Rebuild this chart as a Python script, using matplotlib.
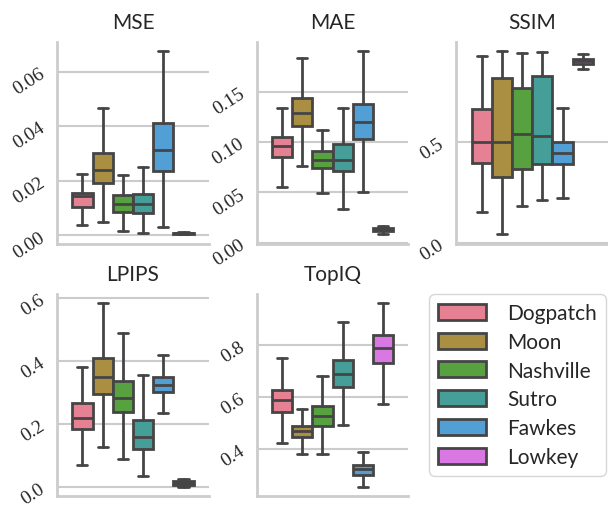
import matplotlib
matplotlib.use("Agg")
import matplotlib.pyplot as plt
from matplotlib.patches import Patch
import seaborn as sns

methods = ["Dogpatch", "Moon", "Nashville", "Sutro", "Fawkes", "Lowkey"]

# per method: [whisker low, q1, median, q3, whisker high]
mse_stats = [
    [0.0037, 0.0106, 0.0143, 0.0156, 0.0226],
    [0.0049, 0.0191, 0.0240, 0.0301, 0.0467],
    [0.0017, 0.0087, 0.0116, 0.0147, 0.0223],
    [0.0010, 0.0084, 0.0115, 0.0152, 0.0250],
    [0.0031, 0.0235, 0.0313, 0.0412, 0.0675],
    [0.0004, 0.0006, 0.0008, 0.0010, 0.0012],
]
mae_stats = [
    [0.0556, 0.0851, 0.0960, 0.1053, 0.1338],
    [0.0758, 0.1159, 0.1285, 0.1434, 0.1832],
    [0.0496, 0.0742, 0.0818, 0.0907, 0.1116],
    [0.0331, 0.0715, 0.0821, 0.0980, 0.1338],
    [0.0506, 0.1033, 0.1202, 0.1381, 0.1905],
    [0.0083, 0.0112, 0.0128, 0.0145, 0.0168],
]
ssim_stats = [
    [0.150, 0.393, 0.499, 0.660, 0.925],
    [0.041, 0.327, 0.499, 0.816, 0.948],
    [0.183, 0.364, 0.538, 0.765, 0.938],
    [0.211, 0.388, 0.528, 0.824, 0.941],
    [0.222, 0.391, 0.444, 0.500, 0.668],
    [0.860, 0.883, 0.897, 0.908, 0.933],
]
lpips_stats = [
    [0.071, 0.186, 0.221, 0.266, 0.382],
    [0.126, 0.297, 0.351, 0.411, 0.584],
    [0.091, 0.239, 0.282, 0.338, 0.489],
    [0.036, 0.120, 0.160, 0.212, 0.355],
    [0.234, 0.303, 0.325, 0.351, 0.420],
    [0.002, 0.008, 0.013, 0.019, 0.025],
]
topiq_stats = [
    [0.425, 0.544, 0.588, 0.628, 0.751],
    [0.382, 0.446, 0.470, 0.488, 0.553],
    [0.381, 0.491, 0.526, 0.567, 0.681],
    [0.493, 0.641, 0.690, 0.743, 0.890],
    [0.257, 0.302, 0.323, 0.338, 0.389],
    [0.575, 0.730, 0.789, 0.837, 0.961],
]

metrics = ["MSE", "MAE", "SSIM", "LPIPS", "TopIQ"]
all_stats = [mse_stats, mae_stats, ssim_stats, lpips_stats, topiq_stats]
yticks = [
    [0.00, 0.02, 0.04, 0.06],
    [0.00, 0.05, 0.10, 0.15],
    [0.0, 0.5],
    [0.0, 0.2, 0.4, 0.6],
    [0.4, 0.6, 0.8],
]
tick_fmt = ["{:.2f}", "{:.2f}", "{:.1f}", "{:.1f}", "{:.1f}"]

sns.set_theme(style="whitegrid")
plt.rcParams["font.family"] = ["Lato", "DejaVu Sans"]

colors = [sns.desaturate(c, 0.75) for c in sns.color_palette("husl", len(methods))]
line_col = "0.27"
lw = 2.0

fig, axes = plt.subplots(2, 3, figsize=(6.08, 5.1), dpi=100)
fig.subplots_adjust(left=0.094, right=1.0, top=0.916, bottom=0.026,
                    wspace=0.316, hspace=0.25)

n = len(methods)
step = 0.8 / n
positions = [-0.4 + step * (i + 0.5) for i in range(n)]

for ax, name, stats, ticks, fmt in zip(axes.flat, metrics, all_stats, yticks, tick_fmt):
    bxp_stats = []
    for s in stats:
        bxp_stats.append({"whislo": s[0], "q1": s[1], "med": s[2],
                          "q3": s[3], "whishi": s[4], "fliers": []})
    parts = ax.bxp(bxp_stats, positions=positions, widths=step, patch_artist=True,
                   showfliers=False,
                   boxprops=dict(edgecolor=line_col, linewidth=lw),
                   whiskerprops=dict(color=line_col, linewidth=lw),
                   capprops=dict(color=line_col, linewidth=lw),
                   medianprops=dict(color=line_col, linewidth=lw))
    for box, c in zip(parts["boxes"], colors):
        box.set_facecolor(c)
    ax.set_xlim(-0.5, 0.5)
    ax.set_xticks([])
    ax.set_yticks(ticks)
    ax.set_yticklabels([fmt.format(t) for t in ticks], rotation=33,
                       rotation_mode="anchor", ha="right", va="center",
                       family=["Liberation Serif"], fontsize=14)
    ax.tick_params(axis="y", pad=4)
    ax.grid(axis="x", visible=False)
    ax.grid(axis="y", color="0.8", linewidth=1.5)
    ax.set_title(name, fontsize=15, pad=10)
    sns.despine(ax=ax)
    for side in ["left", "bottom"]:
        ax.spines[side].set_color("0.8")
        ax.spines[side].set_linewidth(2)

axes[1, 2].axis("off")
handles = [Patch(facecolor=c, edgecolor=line_col, linewidth=lw) for c in colors]
fig.legend(handles, methods, loc="upper right", bbox_to_anchor=(0.997, 0.422),
           fontsize=15, handlelength=2.3, handleheight=0.8, frameon=True,
           borderpad=0.45, labelspacing=0.42, handletextpad=1.0, borderaxespad=0)
leg = fig.legends[0]
leg._legend_box.sep = 0
leg.get_frame().set_boxstyle("round", pad=0.0, rounding_size=0.3)

plt.savefig("out.png", dpi=100)
plt.close()
